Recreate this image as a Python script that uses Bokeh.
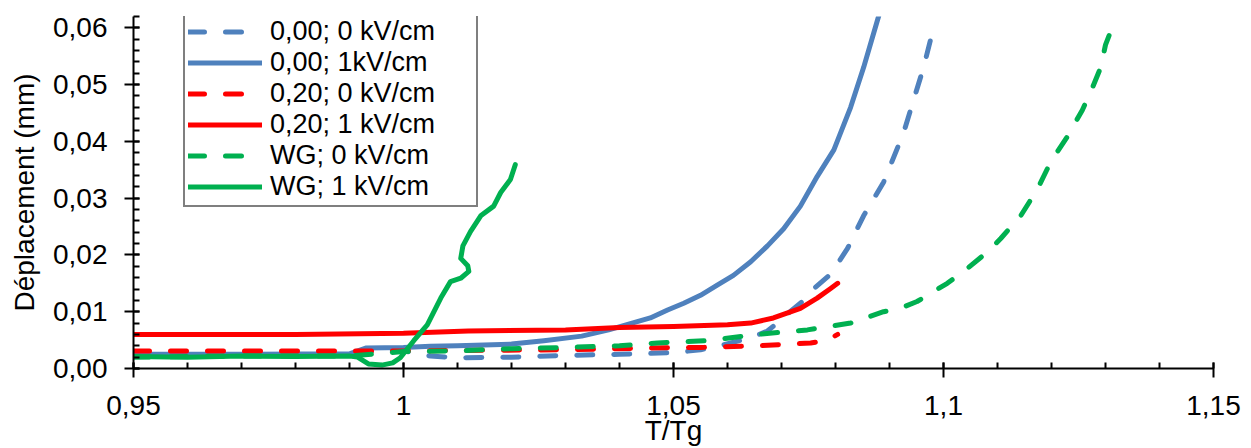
from bokeh.plotting import figure
from bokeh.models import Range1d, FixedTicker, CustomJSTickFormatter, Legend, LegendItem
from bokeh.embed import file_html
from bokeh.resources import INLINE

# ---- data ----
names = ["0,00; 0 kV/cm", "0,00; 1kV/cm", "0,20; 0 kV/cm", "0,20; 1 kV/cm", "WG; 0 kV/cm", "WG; 1 kV/cm"]

b0_t = [0.950, 0.970, 0.990, 0.993, 1.000, 1.005, 1.010, 1.020, 1.030, 1.040, 1.050, 1.055,
        1.0593, 1.0643, 1.0674, 1.0698, 1.0717, 1.0741, 1.0754, 1.0791, 1.0822, 1.0852,
        1.0889, 1.0926, 1.0963, 1.0981]
b0_d = [0.0027, 0.0027, 0.0027, 0.0031, 0.0031, 0.0022, 0.0019, 0.0020, 0.0023, 0.0025, 0.0028, 0.0033,
        0.0042, 0.0054, 0.0066, 0.0085, 0.0101, 0.0120, 0.0136, 0.0166, 0.0211, 0.0269,
        0.0328, 0.0415, 0.0530, 0.0598]

b1_t = [0.950, 0.970, 0.990, 0.993, 1.000, 1.005, 1.010, 1.020, 1.026, 1.033, 1.038, 1.0457,
        1.0489, 1.0519, 1.055, 1.0581, 1.0611, 1.0643, 1.0674, 1.0704, 1.0735, 1.0766,
        1.0797, 1.0828, 1.0852, 1.088]
b1_d = [0.0025, 0.0025, 0.0026, 0.0036, 0.0037, 0.0039, 0.0040, 0.0043, 0.0049, 0.0057, 0.0068, 0.0089,
        0.0103, 0.0115, 0.0129, 0.0147, 0.0164, 0.0188, 0.0216, 0.0246, 0.0286, 0.0338,
        0.0385, 0.0460, 0.0530, 0.0621]

r0_t = [0.950, 1.000, 1.030, 1.045, 1.055, 1.0655, 1.0754, 1.0785, 1.0804]
r0_d = [0.0031, 0.0031, 0.0033, 0.0036, 0.0037, 0.0040, 0.0045, 0.0050, 0.0060]

r1_t = [0.950, 0.980, 1.000, 1.012, 1.030, 1.040, 1.050, 1.060, 1.0643, 1.0685, 1.0735,
        1.0766, 1.0791, 1.0804]
r1_d = [0.0060, 0.0060, 0.0062, 0.0066, 0.0068, 0.0072, 0.0074, 0.0077, 0.0080, 0.0089, 0.0106,
        0.0124, 0.0141, 0.0150]

g0_t = [0.950, 0.970, 0.990, 1.000, 1.010, 1.020, 1.030, 1.040, 1.047, 1.0563, 1.0655, 1.0748,
        1.0828, 1.0889, 1.092, 1.0951, 1.1007, 1.1044, 1.1081, 1.1106, 1.1143, 1.1174,
        1.1198, 1.1229, 1.1257, 1.1276, 1.1291, 1.1300, 1.1315]
g0_d = [0.0020, 0.0022, 0.0022, 0.0030, 0.0031, 0.0035, 0.0037, 0.0040, 0.0045, 0.0049, 0.0060, 0.0068,
        0.0080, 0.0100, 0.0106, 0.0118, 0.0150, 0.0176, 0.0205, 0.0229, 0.0269, 0.0316,
        0.0363, 0.0408, 0.0455, 0.0495, 0.0530, 0.0570, 0.0607]

g1_t = [0.950, 0.960, 0.970, 0.980, 0.990, 0.9915, 0.9935, 0.996, 0.998, 0.9994, 1.0019, 1.0044,
        1.0069, 1.0087, 1.0106, 1.0121, 1.0119, 1.0106, 1.0110, 1.0124, 1.0143, 1.0167,
        1.018, 1.0198, 1.0207]
g1_d = [0.0021, 0.0020, 0.0022, 0.0021, 0.0022, 0.0020, 0.0008, 0.0006, 0.0010, 0.0019, 0.0049, 0.0077,
        0.0124, 0.0153, 0.0159, 0.0171, 0.0181, 0.0194, 0.0216, 0.0241, 0.0269, 0.0286,
        0.0310, 0.0333, 0.0359]

x_ticks = [0.95, 1.0, 1.05, 1.1, 1.15]
x_minor = [0.95 + 0.01 * i for i in range(21)]
y_ticks = [0.0, 0.01, 0.02, 0.03, 0.04, 0.05, 0.06]
y_minor = [0.002 * i for i in range(32)]

# ---- figure ----
FONT = "Liberation Sans"
p = figure(width=1251, height=448, output_backend="svg", toolbar_location=None,
           x_range=Range1d(0.95, 1.15), y_range=Range1d(0, 0.062),
           min_border_left=133, min_border_right=38, min_border_top=16, min_border_bottom=77)
p.grid.visible = False
p.outline_line_color = None
p.background_fill_color = "white"
p.border_fill_color = "white"

BLUE = "#4F81BD"
RED = "#FF0000"
GREEN = "#00B050"

series = [
    (b0_t, b0_d, BLUE, "16 21"),
    (b1_t, b1_d, BLUE, "solid"),
    (r0_t, r0_d, RED, "16 21"),
    (r1_t, r1_d, RED, "solid"),
    (g0_t, g0_d, GREEN, "16 21"),
    (g1_t, g1_d, GREEN, "solid"),
]
items = []
for (t, d, c, dash), nm in zip(series, names):
    r = p.line(t, d, line_color=c, line_width=5, line_dash=dash, line_cap="round", line_join="round")
    items.append(LegendItem(label=nm, renderers=[r]))

# axes
for ax in (p.xaxis[0], p.yaxis[0]):
    ax.axis_line_color = "black"
    ax.axis_line_width = 2
    ax.major_tick_line_color = "black"
    ax.major_tick_line_width = 2
    ax.minor_tick_line_color = "black"
    ax.minor_tick_line_width = 2
    ax.major_tick_in = 6
    ax.major_tick_out = 9
    ax.minor_tick_in = 6
    ax.minor_tick_out = 0
    ax.major_label_text_font = FONT
    ax.major_label_text_font_size = "28px"
    ax.major_label_text_color = "black"
    ax.axis_label_text_font = FONT
    ax.axis_label_text_font_size = "28px"
    ax.axis_label_text_font_style = "normal"
    ax.axis_label_text_color = "black"

p.xaxis[0].ticker = FixedTicker(ticks=x_ticks, minor_ticks=x_minor)
p.yaxis[0].ticker = FixedTicker(ticks=y_ticks, minor_ticks=y_minor)
p.xaxis[0].formatter = CustomJSTickFormatter(code="return (Math.round(tick*100)/100).toString().replace('.', ',');")
p.yaxis[0].formatter = CustomJSTickFormatter(code="return tick.toFixed(2).replace('.', ',');")
p.xaxis[0].major_label_standoff = 18
p.yaxis[0].major_label_standoff = 17
p.xaxis[0].axis_label = "T/Tg"
p.xaxis[0].axis_label_standoff = -3
p.yaxis[0].axis_label = "Déplacement (mm)"
p.yaxis[0].axis_label_standoff = 10

legend = Legend(items=items, location=(50, 161))
legend.label_text_font = FONT
legend.label_text_font_size = "27px"
legend.label_text_color = "black"
legend.glyph_width = 74
legend.glyph_height = 31
legend.label_height = 31
legend.label_width = 203
legend.label_standoff = 8
legend.spacing = 0
legend.padding = 3
legend.margin = 0
legend.border_line_color = "black"
legend.border_line_width = 2
legend.background_fill_color = "white"
legend.background_fill_alpha = 1.0
p.add_layout(legend)

open("out.html", "w").write(file_html(p, INLINE))
